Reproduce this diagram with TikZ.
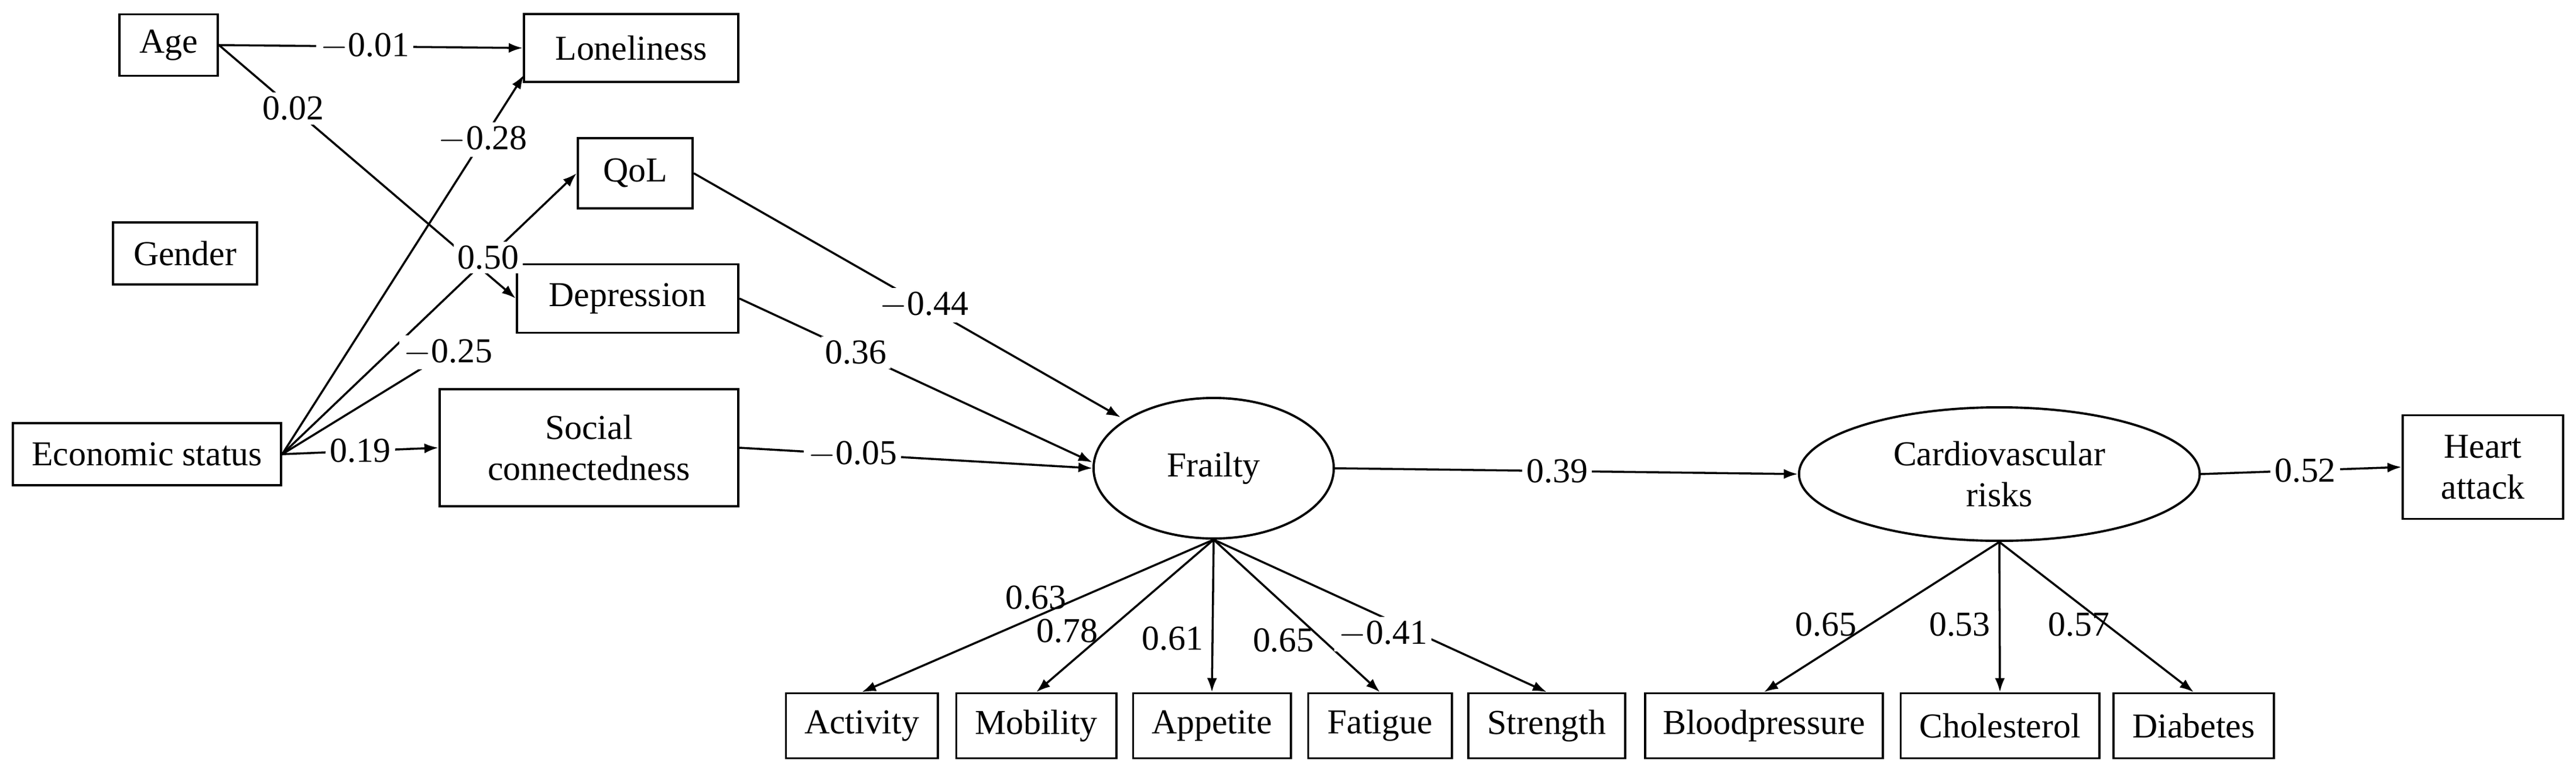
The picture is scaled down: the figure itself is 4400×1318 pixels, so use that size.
\documentclass[tikz,border=0pt]{standalone}
\usepackage{fontspec}
\setmainfont{Liberation Serif}
\usetikzlibrary{arrows.meta,shapes.geometric}
\begin{document}
\begin{tikzpicture}[x=0.01cm,y=-0.01cm,
  font=\fontsize{17}{20}\selectfont,
  box/.style={draw,line width=1.1pt,inner sep=0pt,align=center},
  lat/.style={draw,ellipse,line width=1.1pt,inner sep=0pt,align=center},
  edge/.style={line width=1pt,-{Latex[length=0.24cm,width=0.17cm]}},
  plain/.style={line width=1pt},
  lab/.style={fill=white,inner sep=2pt}]
\useasboundingbox (0,0) rectangle (4400,1318);
\node[box,minimum width=1.68cm,minimum height=1.05cm] (age) at (288,77) {Age};
\node[box,minimum width=3.66cm,minimum height=1.16cm] (lon) at (1078,82) {Loneliness};
\node[box,minimum width=1.96cm,minimum height=1.2cm] (qol) at (1085,296) {QoL};
\node[box,minimum width=2.45cm,minimum height=1.06cm] (gen) at (316,433) {Gender};
\node[box,minimum width=3.78cm,minimum height=1.17cm] (dep) at (1072,510) {Depression};
\node[box,minimum width=4.58cm,minimum height=1.06cm] (eco) at (251,776) {Economic status};
\node[box,minimum width=5.1cm,minimum height=2.0cm] (soc) at (1006,765) {Social\\connectedness};
\node[lat,minimum width=4.1cm,minimum height=2.4cm] (fra) at (2073,800) {Frailty};
\node[lat,minimum width=6.84cm,minimum height=2.28cm] (car) at (3415,810) {Cardiovascular\\risks};
\node[box,minimum width=2.74cm,minimum height=1.77cm] (hea) at (4241,798) {Heart\\attack};
\foreach \n/\t/\x/\w in {act/Activity/1472/2.59,mob/Mobility/1770/2.73,app/Appetite/2070/2.69,fat/Fatigue/2357/2.45,str/Strength/2642/2.68,blo/Bloodpressure/3013/4.06,cho/Cholesterol/3416/3.39,dia/Diabetes/3747/2.74}
  \node[box,minimum width=\w cm,minimum height=1.11cm] (\n) at (\x,1240) {\t};
\coordinate (lonsw) at (895,128);
\coordinate (e25) at (765,602);
\coordinate (fq) at (1914,713);
\coordinate (fw1) at (1866,790);
\coordinate (fw2) at (1866,800);
\draw[edge] (age.east) -- node[lab,pos=0.48]{$-$0.01} (lon.west);
\draw[edge] (age.east) -- node[lab,pos=0.25]{0.02} (dep.west);
\draw[edge] (eco.east) -- node[lab,pos=0.83]{$-$0.28} (lonsw);
\draw[edge] (eco.east) -- node[lab,pos=0.7]{0.50} (qol.west);
\draw[plain] (eco.east) -- (e25) node[lab]{$-$0.25};
\draw[edge] (eco.east) -- node[lab,pos=0.5]{0.19} (soc.west);
\draw[edge] (qol.east) -- node[lab,pos=0.54]{$-$0.44} (fq);
\draw[edge] (dep.east) -- node[lab,pos=0.33]{0.36} (fw1);
\draw[edge] (soc.east) -- node[lab,pos=0.32]{$-$0.05} (fw2);
\draw[edge] (fra.east) -- node[lab,pos=0.48]{0.39} (car.west);
\draw[edge] (car.east) -- node[lab,pos=0.52]{0.52} (hea.west);
\draw[edge] (fra.south) -- node[lab,pos=0.38,left=4pt,fill=none]{0.63} (act.north);
\draw[edge] (fra.south) -- node[lab,pos=0.6,left=2pt,fill=none]{0.78} (mob.north);
\draw[edge] (fra.south) -- node[lab,pos=0.65,left=2pt,fill=none]{0.61} (app.north);
\draw[edge] (fra.south) -- node[lab,pos=0.66,left=2pt,fill=none]{0.65} (fat.north);
\draw[edge] (fra.south) -- node[lab,pos=0.62,left=-6pt]{$-$0.41} (str.north);
\draw[edge] (car.south) -- node[lab,pos=0.55,left=4pt,fill=none]{0.65} (blo.north);
\draw[edge] (car.south) -- node[lab,pos=0.55,left=2pt,fill=none]{0.53} (cho.north);
\draw[edge] (car.south) -- node[lab,pos=0.55,left=-4pt,fill=none]{0.57} (dia.north);
\end{tikzpicture}
\end{document}
